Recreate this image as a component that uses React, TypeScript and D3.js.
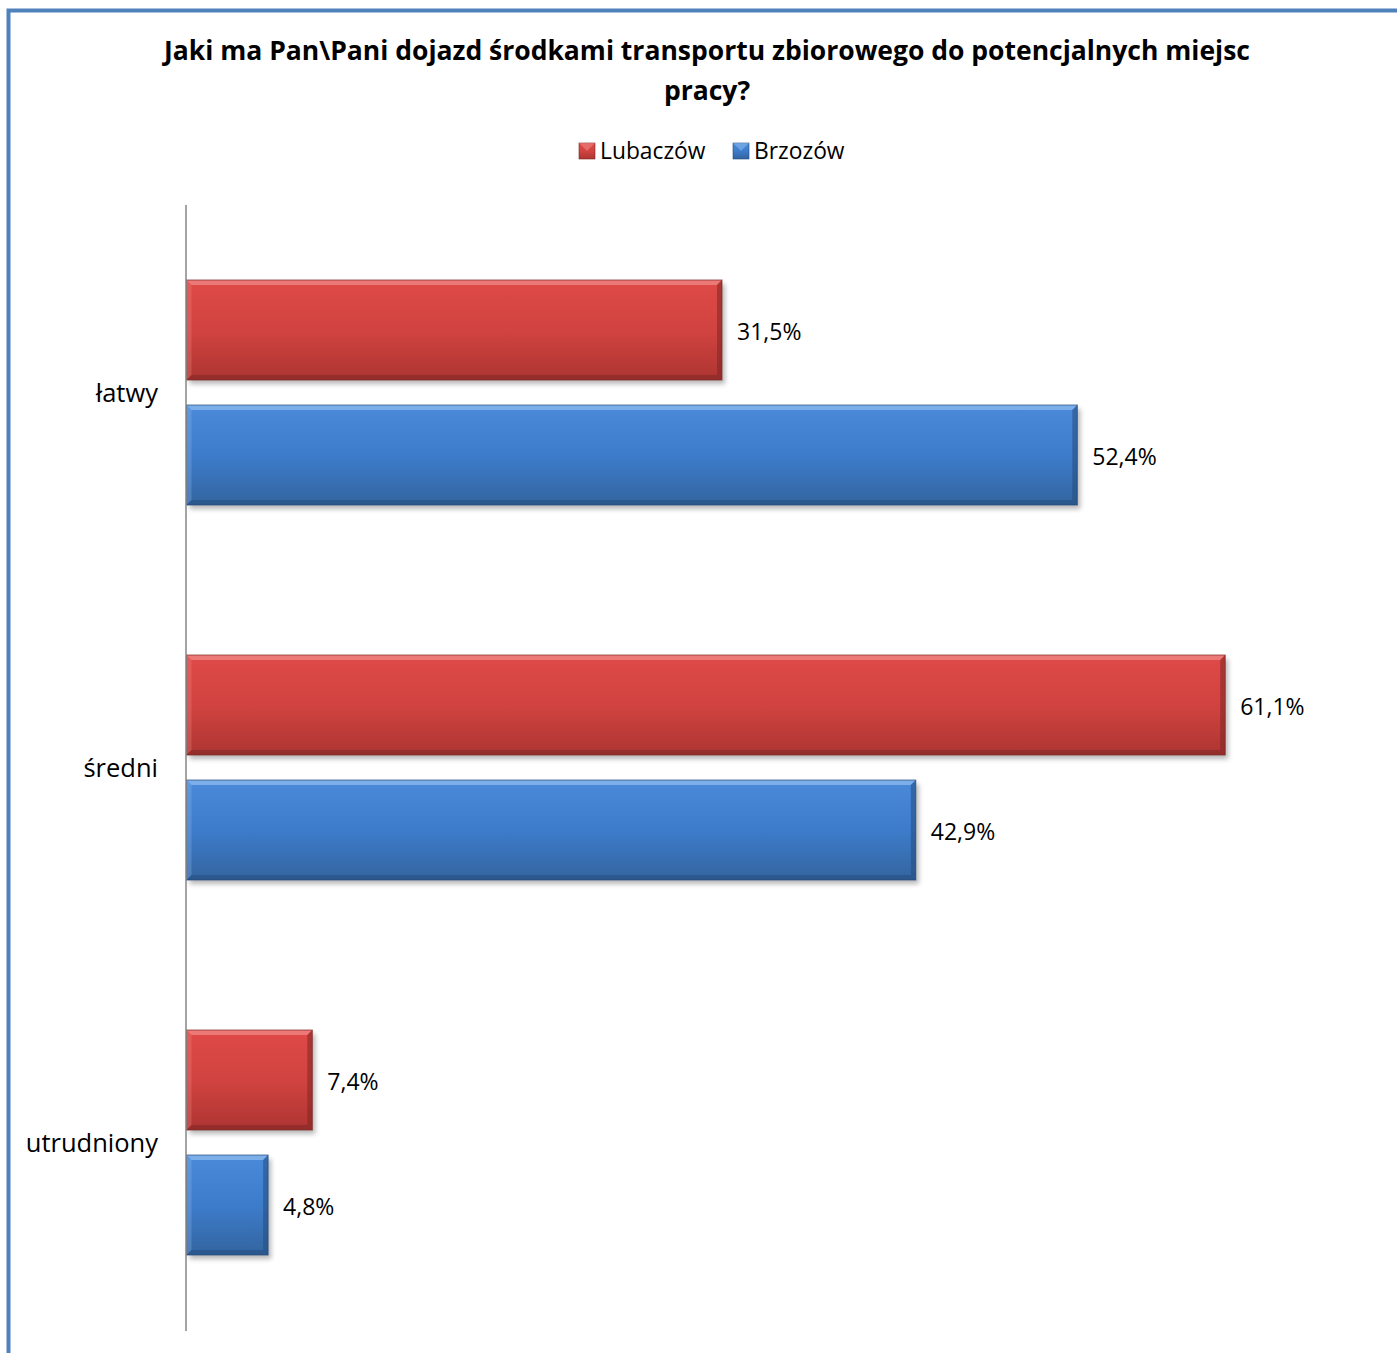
import React from "react";
import * as d3 from "d3";

const categories = ["łatwy", "średni", "utrudniony"];
const seriesNames = ["Lubaczów", "Brzozów"];
const lubaczow = [31.5, 61.1, 7.4];
const brzozow = [52.4, 42.9, 4.8];
const titleLines = [
  "Jaki ma Pan\\Pani dojazd środkami transportu zbiorowego do potencjalnych miejsc",
  "pracy?",
];

const W = 1398;
const H = 1353;
const FONT = "'Open Sans', 'Noto Sans', sans-serif";

const palette = {
  Lubaczów: { top: "#de4a47", mid: "#d14340", bot: "#ad3532", light: "#f08a87", dark: "#7e2624" },
  Brzozów: { top: "#4a8ad8", mid: "#3d7ccb", bot: "#33659f", light: "#8dbbf0", dark: "#244c7d" },
};

const fmt = (v: number) => d3.format(".1f")(v).replace(".", ",") + "%";

export default function App() {
  const x0 = 186.5;
  const x = d3.scaleLinear().domain([0, 70]).range([x0, x0 + 70 * 17]);
  const y = d3.scaleBand().domain(categories).range([205, 1330]).paddingInner(0.4).paddingOuter(0.2);
  const ys = d3.scaleBand().domain(seriesNames).range([0, y.bandwidth()]).paddingInner(0.2);
  const values: Record<string, number[]> = { Lubaczów: lubaczow, Brzozów: brzozow };

  const bars: any[] = [];
  categories.forEach((c, i) => {
    seriesNames.forEach((s) => {
      bars.push({ c, s, v: values[s][i], y: (y(c) as number) + (ys(s) as number), h: ys.bandwidth() });
    });
  });

  const bevel = 5;

  return (
    <svg width={W} height={H} style={{ display: "block", position: "absolute", left: 0, top: 0 }}>
      <defs>
        {seriesNames.map((s, k) => {
          const p = (palette as any)[s];
          return (
            <linearGradient key={s} id={`g${k}`} x1="0" y1="0" x2="0" y2="1">
              <stop offset="0" stopColor={p.top} />
              <stop offset="0.5" stopColor={p.mid} />
              <stop offset="1" stopColor={p.bot} />
            </linearGradient>
          );
        })}
        <filter id="shadow" x="-10%" y="-20%" width="130%" height="160%">
          <feGaussianBlur stdDeviation="2.5" />
        </filter>
      </defs>
      <rect x={0} y={0} width={W} height={H} fill="#ffffff" />
      <path d={`M 8.5 ${H} L 8.5 10.5 L ${W - 1} 10.5`} fill="none" stroke="#4f81bd" strokeWidth={4} />

      {titleLines.map((t, i) => (
        <text key={i} x={707} y={60 + i * 40} textAnchor="middle" fontFamily={FONT} fontWeight="bold" fontSize={26.5} fill="#000">
          {t}
        </text>
      ))}

      {/* legend */}
      {seriesNames.map((s, k) => {
        const p = (palette as any)[s];
        const lx = k === 0 ? 579 : 733;
        return (
          <g key={s}>
            <rect x={lx} y={143} width={16} height={16} fill={`url(#g${k})`} stroke={p.dark} strokeWidth={0.6} />
            <path d={`M ${lx} 143 L ${lx + 16} 143 L ${lx + 8} 151 Z`} fill={p.light} opacity={0.55} />
            <text x={lx + 21} y={159} fontFamily={FONT} fontSize={22.8} fill="#000">
              {s}
            </text>
          </g>
        );
      })}

      {/* bars */}
      {bars.map((b, i) => {
        const k = seriesNames.indexOf(b.s);
        const p = (palette as any)[b.s];
        const xs = x(0);
        const xe = x(b.v);
        const w = xe - xs;
        const yt = b.y;
        const yb = b.y + b.h;
        return (
          <g key={i}>
            <rect x={xs + 3} y={yt + 4} width={w} height={b.h} fill="#000" opacity={0.28} filter="url(#shadow)" />
            <rect x={xs} y={yt} width={w} height={b.h} fill={`url(#g${k})`} />
            <path d={`M ${xs} ${yt} L ${xe} ${yt} L ${xe - bevel} ${yt + bevel} L ${xs + bevel} ${yt + bevel} Z`} fill={p.light} opacity={0.75} />
            <path d={`M ${xs} ${yb} L ${xe} ${yb} L ${xe - bevel} ${yb - bevel} L ${xs + bevel} ${yb - bevel} Z`} fill={p.dark} opacity={0.55} />
            <path d={`M ${xs} ${yt} L ${xs + bevel} ${yt + bevel} L ${xs + bevel} ${yb - bevel} L ${xs} ${yb} Z`} fill={p.light} opacity={0.3} />
            <path d={`M ${xe} ${yt} L ${xe - bevel} ${yt + bevel} L ${xe - bevel} ${yb - bevel} L ${xe} ${yb} Z`} fill={p.dark} opacity={0.55} />
            <rect x={xs} y={yt} width={w} height={b.h} fill="none" stroke={p.dark} strokeWidth={1} opacity={0.7} />
            <text x={xe + 15} y={yt + b.h / 2 + 2} dy="0.35em" fontFamily={FONT} fontSize={23} fill="#000">
              {fmt(b.v)}
            </text>
          </g>
        );
      })}

      {/* axis */}
      <line x1={x0 - 0.5} x2={x0 - 0.5} y1={205} y2={1331} stroke="#868686" strokeWidth={1.5} />

      {categories.map((c) => (
        <text key={c} x={158} y={(y(c) as number) + y.bandwidth() / 2 + 1} dy="0.35em" textAnchor="end" fontFamily={FONT} fontSize={25.5} fill="#000">
          {c}
        </text>
      ))}
    </svg>
  );
}
